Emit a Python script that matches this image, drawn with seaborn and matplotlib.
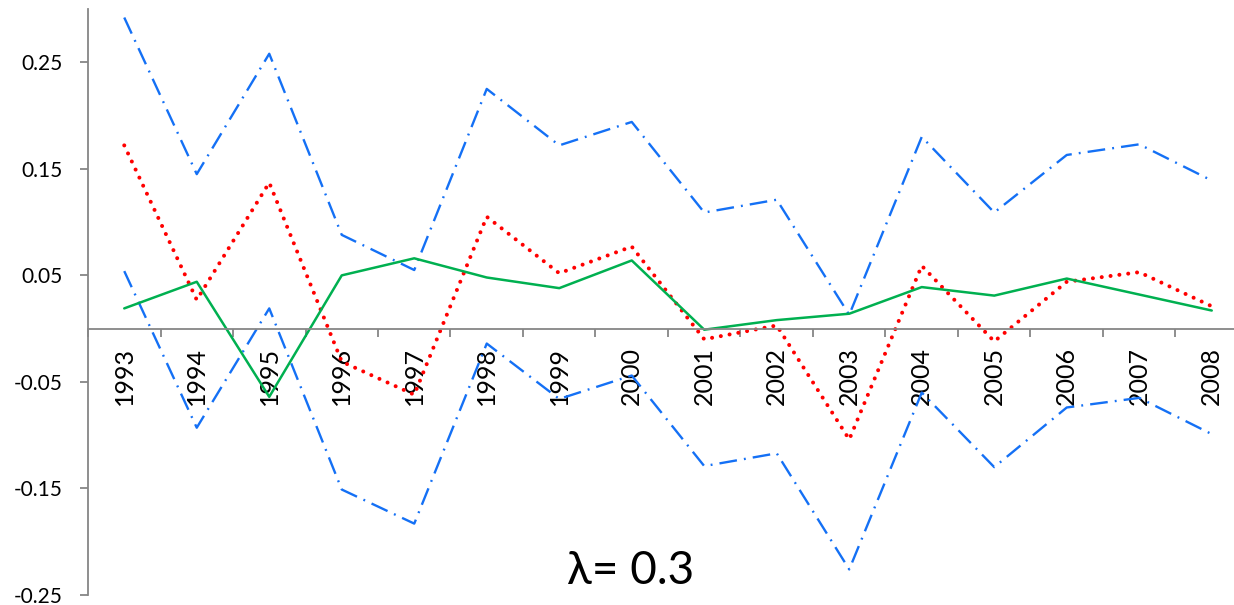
import matplotlib
matplotlib.use("Agg")
import matplotlib.pyplot as plt
import numpy as np
import pandas as pd
import seaborn as sns

years = [1993, 1994, 1995, 1996, 1997, 1998, 1999, 2000,
         2001, 2002, 2003, 2004, 2005, 2006, 2007, 2008]

upper_band = [0.292, 0.145, 0.258, 0.088, 0.055, 0.225, 0.172, 0.194,
              0.109, 0.121, 0.013, 0.180, 0.109, 0.163, 0.173, 0.139]
lower_band = [0.054, -0.093, 0.019, -0.151, -0.183, -0.014, -0.066, -0.044,
              -0.129, -0.117, -0.226, -0.060, -0.130, -0.074, -0.065, -0.099]
estimate = [0.172, 0.027, 0.137, -0.031, -0.062, 0.105, 0.052, 0.077,
            -0.010, 0.003, -0.104, 0.059, -0.012, 0.044, 0.053, 0.021]
smoothed = [0.019, 0.044, -0.064, 0.050, 0.066, 0.048, 0.038, 0.064,
            -0.001, 0.008, 0.014, 0.039, 0.031, 0.047, 0.032, 0.017]

y_ticks = [0.25, 0.15, 0.05, -0.05, -0.15, -0.25]
y_tick_labels = ["0.25", "0.15", "0.05", "-0.05", "-0.15", "-0.25"]
title_text = "λ= 0.3"

sns.set_theme(style="white")
plt.rcParams["font.family"] = ["Lato", "DejaVu Sans"]

W, H = 1234, 605
fig = plt.figure(figsize=(W / 100, H / 100), dpi=100)
left, right, bottom, top = 88, 1248, 595, 9
ax = fig.add_axes([left / W, 1 - bottom / H, (right - left) / W, (bottom - top) / H])

pos = np.arange(len(years))
df = pd.DataFrame({"pos": pos, "upper": upper_band, "lower": lower_band,
                   "est": estimate, "smooth": smoothed})

blue = "#1470F5"
dashdot = (0, (7.5, 3, 0.8, 3))
sns.lineplot(data=df, x="pos", y="upper", ax=ax, color=blue, lw=1.7,
             linestyle=dashdot)
sns.lineplot(data=df, x="pos", y="lower", ax=ax, color=blue, lw=1.7,
             linestyle=dashdot)
red_line = sns.lineplot(data=df, x="pos", y="est", ax=ax, color="#FF0000",
                        lw=2.9, linestyle=(0, (0.01, 2.2))).lines[-1]
red_line.set_dash_capstyle("round")
sns.lineplot(data=df, x="pos", y="smooth", ax=ax, color="#00B050", lw=1.8)

ax.set_xlim(-0.5, len(years) - 0.5)
ax.set_ylim(-0.25, 0.30)
ax.set_xlabel("")
ax.set_ylabel("")

spine_color = "#868686"
for side in ("top", "right"):
    ax.spines[side].set_visible(False)
ax.spines["left"].set_color(spine_color)
ax.spines["left"].set_linewidth(1.3)
ax.spines["bottom"].set_color(spine_color)
ax.spines["bottom"].set_linewidth(1.3)
ax.spines["bottom"].set_position(("data", 0))

ax.set_yticks(y_ticks)
ax.set_yticklabels(y_tick_labels)
ax.tick_params(axis="y", which="major", direction="out", length=6, width=1.3,
               color=spine_color, left=True, pad=12, labelsize=15,
               labelcolor="black")

# category boundaries carry the ticks, category centres carry the labels
ax.set_xticks(np.arange(len(years) + 1) - 0.5)
ax.set_xticklabels([])
ax.set_xticks(pos, minor=True)
ax.set_xticklabels([str(y) for y in years], minor=True, rotation=90)
ax.tick_params(axis="x", which="major", direction="out", length=6, width=1.3,
               color=spine_color, bottom=True)
ax.tick_params(axis="x", which="minor", length=0, pad=13, labelsize=18,
               labelcolor="black")
for lbl in ax.get_xticklabels(minor=True):
    lbl.set_verticalalignment("top")

ax.grid(False)

fig.text(631 / W, 1 - 571 / H, title_text, ha="center", va="center",
         fontsize=33, color="black")

fig.savefig("out.png", dpi=100)
